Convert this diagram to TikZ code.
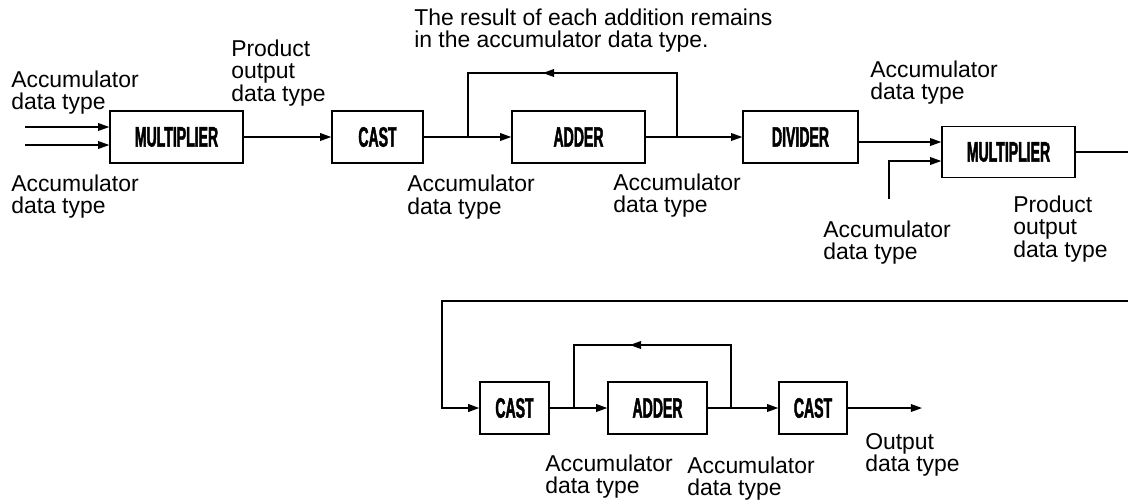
\documentclass[tikz,border=0pt]{standalone}
\usepackage{fontspec}
\setmainfont{Liberation Sans}
\newfontfamily\blockfont{Liberation Sans Bold}[FakeStretch=0.5,FakeBold=1.5]
\usetikzlibrary{arrows.meta,decorations.markings}
\tikzset{
  block/.style={
    draw,
    line width=1pt,
    minimum width=#1,
    minimum height=1.3cm,
    inner sep=0pt,
    font=\blockfont\fontsize{20}{22}\selectfont
  },
  block/.default=3.325cm,
  lbl/.style={
    anchor=base west,
    align=left,
    inner sep=0pt,
    font=\fontsize{16.3}{16}\selectfont
  },
  wire/.style={line width=1pt},
  arr/.style={wire,-{Triangle[length=8pt,width=5.5pt]}},
  feedback/.style={
    wire,
    decoration={markings,
      mark=at position #1 with {\arrow{Triangle[length=8pt,width=5.5pt]}}},
    postaction={decorate}
  }
}

\begin{document}
\begin{tikzpicture}[x=0.025cm,y=-0.025cm]
  \useasboundingbox (0,0) rectangle (1128,502);
  % first row
  \node[block] (mult1) at (176.5,137) {MULTIPLIER};
  \node[block=2.275cm] (cast1) at (377.5,137) {CAST};
  \node[block] (adder1) at (578.5,137) {ADDER};
  \node[block=2.875cm] (divider) at (800.5,137) {DIVIDER};
  \node[block,minimum height=1.275cm] (mult2) at (1008.5,152) {MULTIPLIER};
  \coordinate (in1) at (25,127);
  \coordinate (in2) at (25,145);
  \draw[arr] (in1) -- (mult1.west |- in1);
  \draw[arr] (in2) -- (mult1.west |- in2);
  \draw[arr] (mult1) -- (cast1);
  \draw[arr] (cast1) -- (adder1);
  \draw[arr] (adder1) -- (divider);
  \coordinate (j1) at (468,137);
  \coordinate (k1) at (677,137);
  \draw[feedback=0.588] (k1) -- ++(0,-64) -| (j1);
  \coordinate (m2top) at ([yshift=0.25cm]mult2.west);
  \draw[arr] (divider.east |- m2top) -- (m2top);
  \coordinate (acc3) at (889,199);
  \draw[arr] (acc3) |- ([yshift=-0.225cm]mult2.west);
  \coordinate (brkR1) at (1128,152);
  \draw[wire,line width=1.4pt] (mult2) -- (brkR1);
  % second row
  \node[block=1.725cm] (cast2) at (514.5,408) {CAST};
  \node[block=2.475cm] (adder2) at (657.5,408) {ADDER};
  \node[block=1.7cm] (cast3) at (813,408) {CAST};
  \coordinate (brkR2) at (1128,301);
  \coordinate (brkL) at (442,301);
  \draw[arr,line width=1.4pt] (brkR2) -- (brkL) |- (cast2);
  \draw[arr] (cast2) -- (adder2);
  \draw[arr] (adder2) -- (cast3);
  \coordinate (out) at (922,408);
  \draw[arr] (cast3) -- (out);
  \coordinate (j2) at (574,408);
  \coordinate (k2) at (731,408);
  \draw[feedback=0.58] (k2) -- ++(0,-63) -| (j2);
  % labels (anchored at the baseline of the last line)
  \node[lbl] (accin1) at (11,109.6) {Accumulator\\data type};
  \node[lbl] (accin2) at (11,213.6) {Accumulator\\data type};
  \node[lbl] (prod1) at (231,101.2) {Product\\output\\data type};
  \node[lbl] (note) at (414,47.6) {The result of each addition remains\\in the accumulator data type.};
  \node[lbl] (acccast1) at (407,214.1) {Accumulator\\data type};
  \node[lbl] (accadd1) at (613,212.6) {Accumulator\\data type};
  \node[lbl] (accdiv) at (870,99.6) {Accumulator\\data type};
  \node[lbl] (accm2) at (823,259.6) {Accumulator\\data type};
  \node[lbl] (prod2) at (1013,257.2) {Product\\output\\data type};
  \node[lbl] (acccast2) at (545,493.6) {Accumulator\\data type};
  \node[lbl] (accadd2) at (687,495.6) {Accumulator\\data type};
  \node[lbl] (outlbl) at (865,471.6) {Output\\data type};
\end{tikzpicture}
\end{document}
